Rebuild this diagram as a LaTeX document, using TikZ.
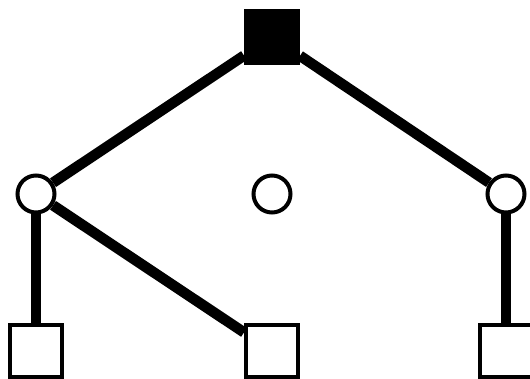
\documentclass[tikz,border=0pt]{standalone}
\usepackage{tikz}
\usetikzlibrary{backgrounds}

\begin{document}
\begin{tikzpicture}[x=1pt,y=-1pt,
    boxnode/.style={draw,line width=4pt,fill=white,minimum size=52pt,inner sep=0pt},
    rootnode/.style={boxnode,fill=black},
    dotnode/.style={circle,draw,line width=4pt,fill=white,minimum size=37pt,inner sep=0pt},
    edge/.style={line width=10.5pt}]
  \useasboundingbox (0,0) rectangle (530,379);
  % top level
  \node[rootnode] (root) at (272,37) {};
  % middle level
  \node[dotnode] (cl) at (36,194) {};
  \node[dotnode] (cm) at (272,194) {};
  \node[dotnode] (cr) at (506,194) {};
  % bottom level
  \node[boxnode] (sl) at (36,351) {};
  \node[boxnode] (sm) at (272,351) {};
  \node[boxnode] (sr) at (506,351) {};
  % links
  \begin{scope}[on background layer]
    \draw[edge] (root) -- (cl);
    \draw[edge] (root) -- (cr);
    \draw[edge] (cl) -- (sl);
    \draw[edge] (cl) -- (sm);
    \draw[edge] (cr) -- (sr);
  \end{scope}
\end{tikzpicture}
\end{document}
